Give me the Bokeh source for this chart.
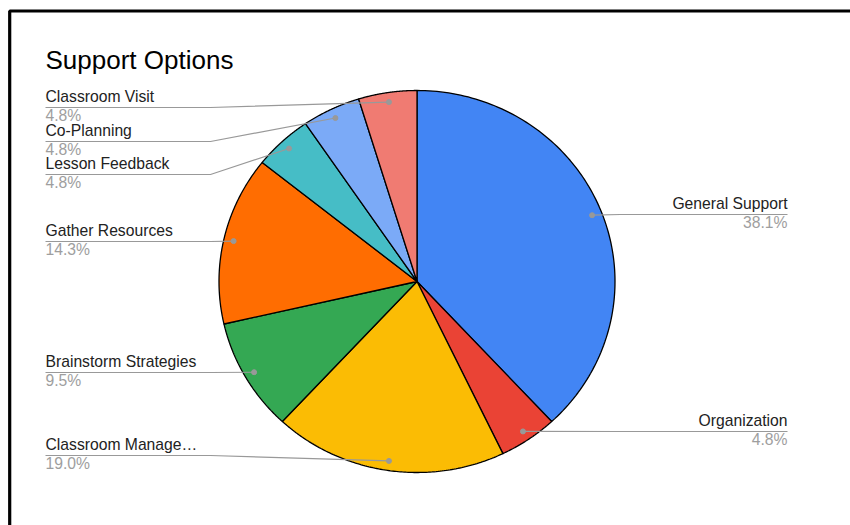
import numpy as np
from bokeh.plotting import figure
from bokeh.models import Range1d, ColumnDataSource
from bokeh.core.properties import value
from bokeh.embed import file_html
from bokeh.resources import INLINE

# ---- data ----
chart_title = "Support Options"
labels = ["General Support", "Organization", "Classroom Manage\u2026", "Brainstorm Strategies",
          "Gather Resources", "Lesson Feedback", "Co-Planning", "Classroom Visit"]
counts = [8, 1, 4, 2, 3, 1, 1, 1]
colors = ["#4285F4", "#EA4335", "#FBBC04", "#34A853", "#FF6D01", "#46BDC6", "#7BAAF7", "#F07B72"]

# ---- layout (pixel space, y down) ----
W, H = 850, 525
CX, CY, RX, RY = 416.5, 281.0, 198.0, 191.0
DOT_K = 0.95
label_line_y = [214, 431, 455, 372, 241, 174, 141, 107]
LEFT_X, RIGHT_X = 45, 787
LEFT_BEND, RIGHT_BEND = 210, 620
FONT = "Liberation Sans"
NAME_OFF, PCT_OFF = -11.5, 8.0

total = float(sum(counts))
fracs = np.array(counts) / total
cum = np.concatenate([[0.0], np.cumsum(fracs)])
pcts = [f"{100 * f:.1f}%" for f in fracs]

p = figure(width=W, height=H, x_range=Range1d(0, W), y_range=Range1d(H, 0),
           output_backend="svg", toolbar_location=None, min_border=0,
           background_fill_color="white", border_fill_color="white")
p.axis.visible = False
p.grid.visible = False
p.outline_line_color = None

# slices (elliptical, clockwise from top)
xs, ys = [], []
for i in range(len(counts)):
    th = np.linspace(cum[i], cum[i + 1], 120) * 2 * np.pi
    xs.append(np.concatenate([[CX], CX + RX * np.sin(th), [CX]]))
    ys.append(np.concatenate([[CY], CY - RY * np.cos(th), [CY]]))
p.patches(xs=xs, ys=ys, fill_color=colors, line_color="black", line_width=1.3)

# leader lines, dots, labels
mid = (cum[:-1] + cum[1:]) / 2 * 2 * np.pi
dot_x = CX + DOT_K * RX * np.sin(mid)
dot_y = CY - DOT_K * RY * np.cos(mid)
lx, ly = [], []
tx, ta = [], []
for i in range(len(counts)):
    uy = label_line_y[i]
    if i < 2:
        lx.append([RIGHT_X, RIGHT_BEND, dot_x[i]])
        tx.append(RIGHT_X); ta.append("right")
    else:
        lx.append([LEFT_X, LEFT_BEND, dot_x[i]])
        tx.append(LEFT_X); ta.append("left")
    ly.append([uy, uy, dot_y[i]])
p.multi_line(xs=lx, ys=ly, line_color="#999999", line_width=1.2)
p.scatter(x=dot_x, y=dot_y, size=5, fill_color="#999999", line_color="#999999")

src = ColumnDataSource(dict(x=tx, yn=[y + NAME_OFF for y in label_line_y],
                            yp=[y + PCT_OFF for y in label_line_y],
                            name=labels, pct=pcts, align=ta))
p.text(x="x", y="yn", text="name", text_align="align", text_baseline="alphabetic",
       text_font=value(FONT), text_font_size=value("15.7px"), text_color="#222222", source=src)
p.text(x="x", y="yp", text="pct", text_align="align", text_baseline="alphabetic",
       text_font=value(FONT), text_font_size=value("15.7px"), text_color="#9e9e9e", source=src)

# title
p.text(x=[45], y=[59], text=[chart_title], text_baseline="alphabetic",
       text_font=value(FONT), text_font_size=value("26px"), text_color="#000000")

# frame
p.line(x=[9.2, 9.2, W], y=[H, 10.5, 10.5], line_color="black", line_width=3.2)

open("out.html", "w").write(file_html(p, INLINE))
